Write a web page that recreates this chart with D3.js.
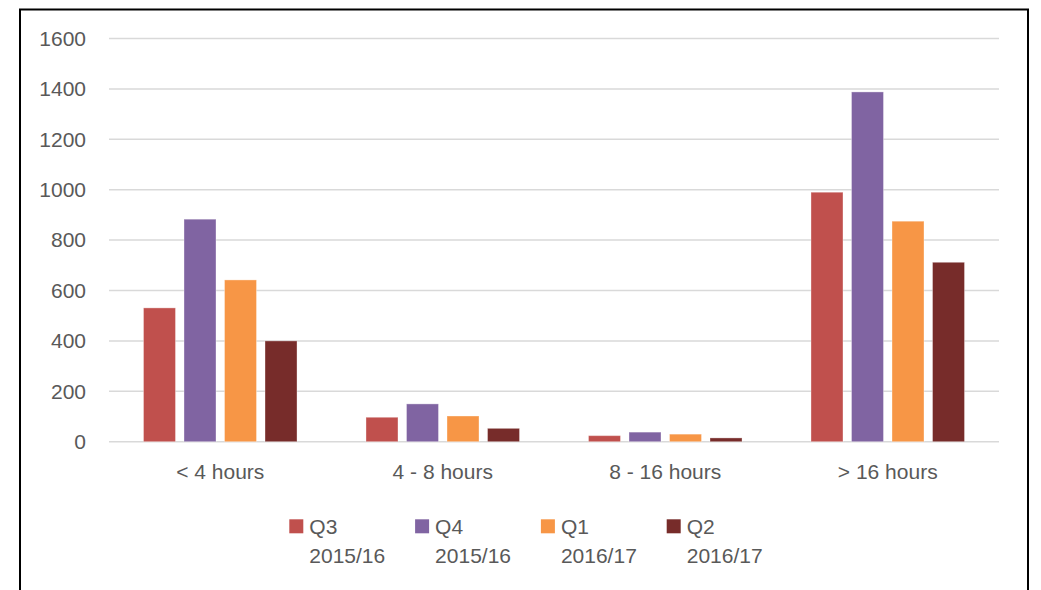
<!DOCTYPE html>
<html>
<head>
<meta charset="utf-8">
<script src="https://cdn.jsdelivr.net/npm/d3@7"></script>
<style>
  body { margin: 0; background: #fff; }
  svg text { font-family: "Liberation Sans", Arial, sans-serif; fill: #595959; }
</style>
</head>
<body>
<svg id="chart" width="1041" height="590"></svg>
<script>
// data
var categories = ["< 4 hours", "4 - 8 hours", "8 - 16 hours", "> 16 hours"];
var seriesNames = [["Q3", "2015/16"], ["Q4", "2015/16"], ["Q1", "2016/17"], ["Q2", "2016/17"]];
var q3_1516 = [531, 97, 24, 990];
var q4_1516 = [883, 150, 38, 1388];
var q1_1617 = [642, 102, 30, 875];
var q2_1617 = [400, 53, 15, 712];
var yTicks = [0, 200, 400, 600, 800, 1000, 1200, 1400, 1600];
var colors = ["#C0504D", "#8064A2", "#F79646", "#772C2A"];

var series = [q3_1516, q4_1516, q1_1617, q2_1617];

var svg = d3.select("#chart");
var fontSize = 21;

// outer frame
svg.append("rect")
  .attr("x", 20).attr("y", 9.5)
  .attr("width", 1008).attr("height", 620)
  .attr("fill", "none")
  .attr("stroke", "#000")
  .attr("stroke-width", 2);

var plotLeft = 109, plotRight = 999, plotTop = 38.5, plotBottom = 441.7;

var y = d3.scaleLinear().domain([0, 1600]).range([plotBottom, plotTop]);

var x0 = d3.scaleBand()
  .domain(categories)
  .range([plotLeft, plotRight])
  .paddingInner(0.31)
  .paddingOuter(0.155);

var x1 = d3.scaleBand()
  .domain(d3.range(series.length))
  .range([0, x0.bandwidth()])
  .paddingInner(0.21);

// gridlines
svg.append("g").selectAll("line")
  .data(yTicks)
  .enter().append("line")
  .attr("x1", plotLeft).attr("x2", plotRight)
  .attr("y1", function(d) { return y(d); })
  .attr("y2", function(d) { return y(d); })
  .attr("stroke", "#d9d9d9")
  .attr("stroke-width", 1.5);

// y labels
svg.append("g").selectAll("text")
  .data(yTicks)
  .enter().append("text")
  .attr("x", 86)
  .attr("y", function(d) { return y(d); })
  .attr("dy", "0.35em")
  .attr("text-anchor", "end")
  .attr("font-size", fontSize)
  .text(function(d) { return d; });

// bars
var groups = svg.append("g").selectAll("g")
  .data(categories)
  .enter().append("g")
  .attr("transform", function(d) { return "translate(" + x0(d) + ",0)"; });

groups.selectAll("rect")
  .data(function(d, i) { return series.map(function(s, k) { return {k: k, v: s[i]}; }); })
  .enter().append("rect")
  .attr("x", function(d) { return x1(d.k); })
  .attr("width", x1.bandwidth())
  .attr("y", function(d) { return y(d.v); })
  .attr("height", function(d) { return y(0) - y(d.v); })
  .attr("fill", function(d) { return colors[d.k]; })
  .attr("stroke", "rgba(255,255,255,0.35)")
  .attr("stroke-width", 1);

// category labels
svg.append("g").selectAll("text")
  .data(categories)
  .enter().append("text")
  .attr("x", function(d) { return x0(d) + x0.bandwidth() / 2; })
  .attr("y", 479)
  .attr("text-anchor", "middle")
  .attr("font-size", fontSize)
  .text(function(d) { return d; });

// legend
var legend = svg.append("g").selectAll("g")
  .data(seriesNames)
  .enter().append("g")
  .attr("transform", function(d, i) { return "translate(" + (289.3 + i * 125.8) + ",519.3)"; });

legend.append("rect")
  .attr("width", 14).attr("height", 14)
  .attr("fill", function(d, i) { return colors[i]; });

legend.append("text")
  .attr("x", 20).attr("y", 7.5)
  .attr("dy", "0.35em")
  .attr("font-size", fontSize)
  .text(function(d) { return d[0]; });

legend.append("text")
  .attr("x", 20).attr("y", 36.5)
  .attr("dy", "0.35em")
  .attr("font-size", fontSize)
  .text(function(d) { return d[1]; });
</script>
</body>
</html>
